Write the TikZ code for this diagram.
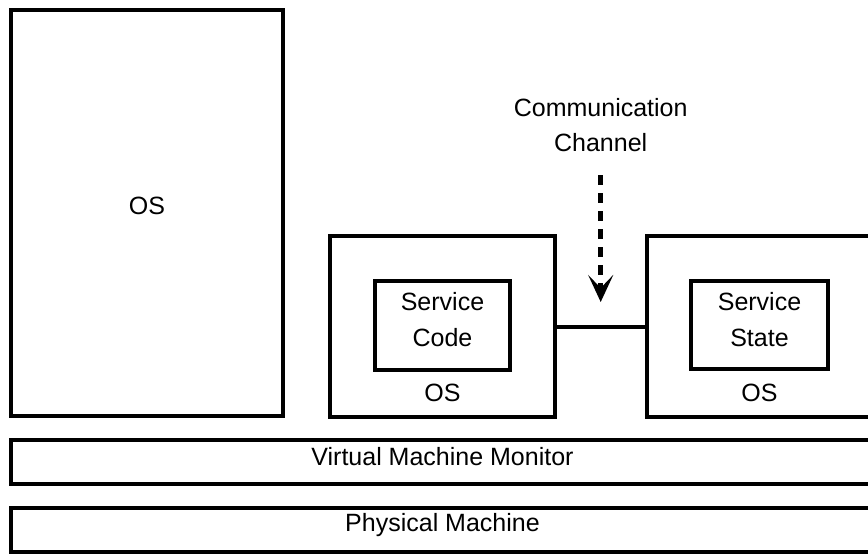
\documentclass[tikz,border=0pt]{standalone}
\usepackage{fontspec}
\setmainfont{Liberation Sans}
\usetikzlibrary{arrows.meta}
\begin{document}
\begin{tikzpicture}[
  x=1pt, y=-1pt,
  box/.style={draw, line width=4pt, inner sep=0pt, outer sep=0pt},
  lbl/.style={font=\fontsize{25}{30}\selectfont, anchor=base, inner sep=0pt},
  link/.style={line width=4pt},
  channel/.style={line width=5pt, dash pattern=on 10pt off 8pt,
    -{Stealth[length=27pt, width=25pt, inset=13pt]}}
]
\useasboundingbox (0,0) rectangle (868,554);
\clip (0,0) rectangle (868,554);

% guest operating systems
\node[box, minimum width=272pt, minimum height=406.5pt] (osA) at (147,212.75) {};
\node[box, minimum width=225pt, minimum height=181pt] (osB) at (442.5,326.5) {};
\node[box, minimum width=225pt, minimum height=181pt] (osC) at (759.5,326.5) {};

% services inside the guests
\node[box, minimum width=135pt, minimum height=89pt] (code) at (442.5,325.5) {};
\node[box, minimum width=137pt, minimum height=88pt] (state) at (759.5,325) {};

% virtualisation layers
\node[box, minimum width=864pt, minimum height=44pt] (vmm) at (443,462) {};
\node[box, minimum width=864pt, minimum height=44pt] (pm) at (443,530) {};

% labels
\node[lbl] (osAtext) at (147,214.3) {OS};
\node[lbl] (osBtext) at (442.5,401.7) {OS};
\node[lbl] (osCtext) at (759.5,401.7) {OS};
\node[lbl] (codeA) at (442.5,310) {Service};
\node[lbl] (codeB) at (442.5,346) {Code};
\node[lbl] (stateA) at (759.5,310) {Service};
\node[lbl] (stateB) at (759.5,346) {State};
\node[lbl] (vmmtext) at (442.5,465) {Virtual Machine Monitor};
\node[lbl] (pmtext) at (442.5,531.7) {Physical Machine};
\node[lbl] (chanA) at (600.7,116.7) {Communication};
\node[lbl] (chanB) at (600.7,151.7) {Channel};

% channel between the two guests
\draw[link] (osB.east) -- (osC.west);
\coordinate (chanStart) at (600.7,175);
\coordinate (chanEnd) at (600.7,302);
\draw[channel] (chanStart) -- (chanEnd);
\end{tikzpicture}
\end{document}
